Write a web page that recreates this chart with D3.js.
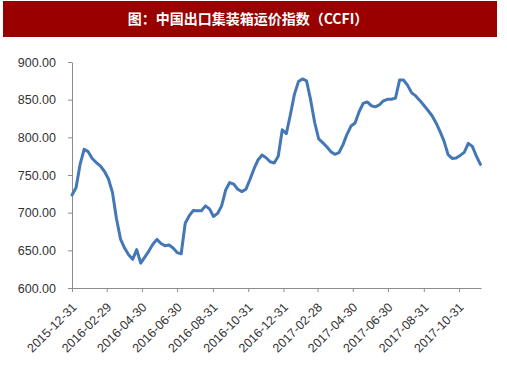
<!DOCTYPE html>
<html>
<head>
<meta charset="utf-8">
<script src="https://cdn.jsdelivr.net/npm/d3@7.9.0/dist/d3.min.js"></script>
<style>
  body { margin: 0; background: #fff; }
  svg { display: block; }
</style>
</head>
<body>
<svg id="chart" width="507" height="373"></svg>
<script>
  // ===== data =====
  const title = '图：中国出口集装箱运价指数（CCFI）';
  const startDate = '2015-12-31';  // weekly points from here
  const ccfi = [
    723.5, 733, 764, 784, 781, 772, 766.5, 762, 755, 745,
    727, 692, 665, 653, 644, 638, 651, 633, 641, 649,
    658, 664.5, 659, 656, 657, 653, 647, 645.5, 686, 696,
    703, 702.5, 702.5, 709, 705, 695, 699, 709, 730, 740,
    738, 731, 728, 731, 744, 758, 770, 776.5, 773, 767.5,
    766, 775, 810, 805, 830, 857, 874, 877.5, 875, 850,
    820, 798, 793, 787.5, 781, 777.5, 779.6, 790, 804, 815,
    819, 834, 845, 847, 842, 840.5, 843, 848.5, 850.5, 850.5,
    852, 876, 876, 869, 859, 855, 849, 842.5, 836, 829,
    819.5, 808, 795, 777, 772, 772.5, 776, 780, 792, 788,
    775, 764
  ];
  const xTickLabels = [
    '2015-12-31', '2016-02-29', '2016-04-30', '2016-06-30', '2016-08-31', '2016-10-31',
    '2016-12-31', '2017-02-28', '2017-04-30', '2017-06-30', '2017-08-31', '2017-10-31'
  ];
  const yTicks = [600, 650, 700, 750, 800, 850, 900];

  const parse = d3.utcParse('%Y-%m-%d');
  const t0 = parse(startDate);
  const points = ccfi.map((v, i) => ({ date: d3.utcDay.offset(t0, i * 7), value: v }));

  const svg = d3.select('#chart');

  // title bar
  svg.append('rect')
    .attr('x', 3).attr('y', 1)
    .attr('width', 494).attr('height', 36)
    .attr('fill', '#990000');
  svg.append('text')
    .attr('x', 248).attr('y', 24)
    .attr('text-anchor', 'middle')
    .attr('fill', '#fff')
    .style('font-family', '"Noto Sans CJK SC", sans-serif')
    .style('font-weight', 'bold')
    .style('font-size', '14px')
    .text(title);

  const x = d3.scaleUtc()
    .domain([t0, d3.utcDay.offset(t0, 708)])
    .range([72, 481]);
  const y = d3.scaleLinear().domain([600, 900]).range([288, 62]);

  const axisColor = '#8c8c8c';
  const font = '"Liberation Sans", Arial, sans-serif';

  // y axis
  const yAxis = svg.append('g')
    .attr('transform', 'translate(72,0)')
    .call(d3.axisLeft(y).tickValues(yTicks).tickSize(4).tickSizeOuter(0)
      .tickFormat(d3.format('.2f')));
  yAxis.select('.domain').attr('stroke', axisColor);
  yAxis.selectAll('.tick line').attr('stroke', axisColor);
  yAxis.selectAll('.tick text')
    .attr('x', -16)
    .attr('fill', '#333')
    .style('font-family', font)
    .style('font-size', '12.5px');

  // x axis
  const xAxis = svg.append('g')
    .attr('transform', 'translate(0,288)')
    .call(d3.axisBottom(x).tickValues(xTickLabels.map(parse)).tickSize(4).tickSizeOuter(0)
      .tickFormat(d3.utcFormat('%Y-%m-%d')));
  xAxis.select('.domain').attr('stroke', axisColor);
  xAxis.selectAll('.tick line').attr('stroke', axisColor);
  xAxis.selectAll('.tick text')
    .attr('fill', '#333')
    .style('font-family', font)
    .style('font-size', '12.5px')
    .attr('text-anchor', 'end')
    .attr('dy', null)
    .attr('y', 0)
    .attr('transform', 'translate(5,20) rotate(-45)');

  // line
  const line = d3.line()
    .x(d => x(d.date))
    .y(d => y(d.value));
  svg.append('path')
    .datum(points)
    .attr('d', line)
    .attr('fill', 'none')
    .attr('stroke', '#4477b6')
    .attr('stroke-width', 3)
    .attr('stroke-linejoin', 'round')
    .attr('stroke-linecap', 'round');
</script>
</body>
</html>
